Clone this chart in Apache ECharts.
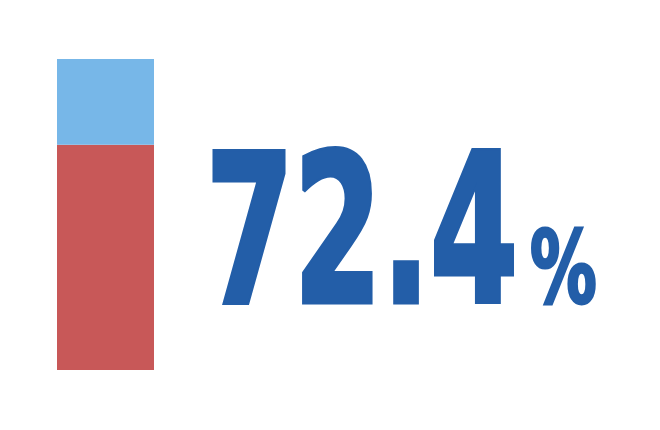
<!DOCTYPE html>
<html><head><meta charset="utf-8">
<script src="https://cdn.jsdelivr.net/npm/echarts@6/dist/echarts.min.js"></script>
<style>html,body{margin:0;padding:0;background:#fff}#c{width:660px;height:430px}</style>
</head><body><div id="c"></div>
<script>
const categories = ['Share'];
const partValues = [72.4];
const restValues = [27.6];
const seriesNames = ['Part', 'Rest'];

const chart = echarts.init(document.getElementById('c'), null, {renderer: 'canvas'});
const fontFam = '"DejaVu Sans Condensed", "DejaVu Sans", sans-serif';
const textColor = '#235ea8';
chart.setOption({
  animation: false,
  backgroundColor: '#ffffff',
  grid: {left: 57, top: 59, width: 97, bottom: 60},
  xAxis: {type: 'category', data: categories, show: false},
  yAxis: {type: 'value', min: 0, max: 100, show: false},
  series: [
    {name: seriesNames[0], type: 'bar', stack: 's', data: partValues, barWidth: '100%', itemStyle: {color: '#c85858'}},
    {name: seriesNames[1], type: 'bar', stack: 's', data: restValues, barWidth: '100%', itemStyle: {color: '#77b7e8'}}
  ],
  graphic: [
    {type: 'text', left: 204, top: 142, scaleX: 0.68,
     style: {text: partValues[0].toFixed(1), font: 'bold 207px ' + fontFam, fill: textColor,
             stroke: textColor, lineWidth: 5, lineJoin: 'miter'}},
    {type: 'text', left: 529, top: 226, scaleX: 0.74,
     style: {text: '%', font: 'bold 100px ' + fontFam, fill: textColor,
             stroke: textColor, lineWidth: 3, lineJoin: 'miter'}}
  ]
});
</script></body></html>
